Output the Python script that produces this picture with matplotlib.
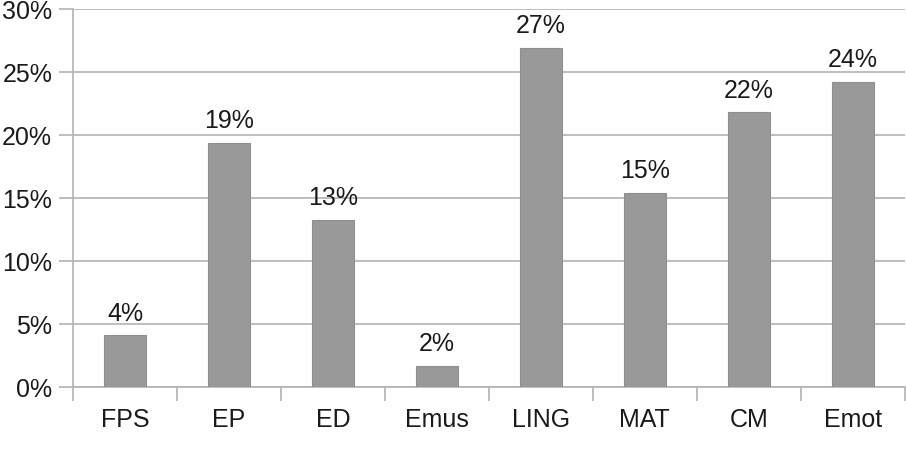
import numpy as np
import matplotlib
matplotlib.use('Agg')
import matplotlib.pyplot as plt
from matplotlib.ticker import FixedLocator, NullFormatter

#data (percent)
categories = ['FPS', 'EP', 'ED', 'Emus', 'LING', 'MAT', 'CM', 'Emot']
values = [4.1, 19.4, 13.3, 1.7, 26.9, 15.4, 21.8, 24.2]
yticks = [0, 5, 10, 15, 20, 25, 30]

plt.rcParams['font.family'] = ['Liberation Sans', 'DejaVu Sans']
FS = 18

fig = plt.figure(figsize=(9.06, 4.57), dpi=100)
ax = fig.add_axes([0.0806, 0.153, 0.918, 0.827])

x = np.arange(len(categories))
bars = ax.bar(x, values, width=0.40, color='#999999', edgecolor='#8f8f8f',
              linewidth=0.8, zorder=3)

#value labels above bars
for xi, v in zip(x, values):
    ax.annotate('%.0f%%' % v, (xi, v), xytext=(0, 7), textcoords='offset points',
                ha='center', va='bottom', fontsize=FS, color='#1a1a1a')

ax.set_xlim(-0.5, len(categories) - 0.5)
ax.set_ylim(0, 30)
ax.set_yticks(yticks)
ax.set_yticklabels(['%d%%' % t for t in yticks])
ax.yaxis.grid(True, color='#b3b3b3', linewidth=1.2, zorder=0)

#category labels centred, ticks at boundaries
ax.set_xticks(x)
ax.set_xticklabels(categories)
ax.tick_params(axis='x', which='major', length=0, pad=15)
ax.xaxis.set_minor_locator(FixedLocator(np.arange(-0.5, len(categories), 1.0)))
ax.xaxis.set_minor_formatter(NullFormatter())
ax.tick_params(axis='x', which='minor', length=10, width=1.2, color='#b3b3b3')
ax.tick_params(axis='y', length=10, width=1.2, color='#b3b3b3', pad=5)
ax.tick_params(labelsize=FS, labelcolor='#1a1a1a')

for s in ['top', 'right']:
    ax.spines[s].set_visible(False)
ax.spines['left'].set_color('#b3b3b3')
ax.spines['left'].set_linewidth(1.2)
ax.spines['bottom'].set_color('#b3b3b3')
ax.spines['bottom'].set_linewidth(1.2)

fig.savefig('out.png', dpi=100)
